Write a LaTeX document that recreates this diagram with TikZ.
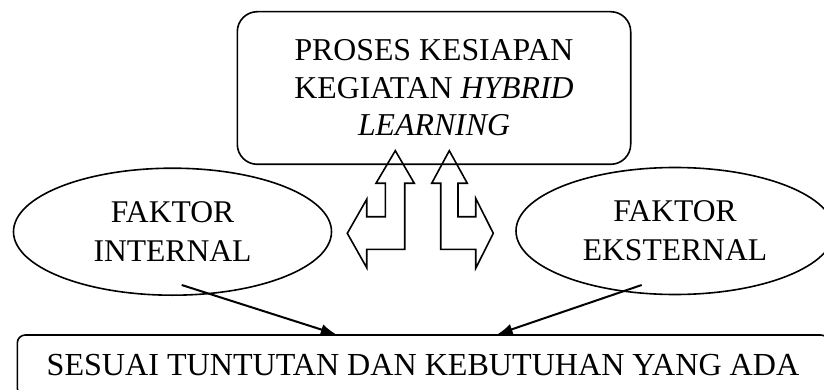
\documentclass[tikz,border=0pt]{standalone}
\usepackage{fontspec}
\setmainfont{Liberation Serif}
\usetikzlibrary{arrows.meta,calc,shapes.geometric}
\begin{document}
\begin{tikzpicture}[x=1pt,y=-1pt,
  outl/.style={draw=black,line width=1.6pt},
  topbox/.style={outl,rounded corners=20pt,minimum width=393.4pt,minimum height=152.6pt,inner sep=0pt,align=center,font=\fontsize{31.8}{37.5}\selectfont},
  oval/.style={outl,ellipse,minimum width=318pt,minimum height=127pt,inner sep=0pt,align=center,font=\fontsize{31.6}{39}\selectfont},
  botbox/.style={outl,rounded corners=8pt,minimum width=811.4pt,minimum height=61pt,inner sep=0pt,font=\fontsize{32.1}{38}\selectfont},
  conn/.style={line width=2pt,-{Latex[length=15pt,width=11pt]}},
  blockarrow/.style={draw=black,line width=1.6pt,line join=miter}]
\useasboundingbox (0,0) rectangle (824,390);
\clip (0,0) rectangle (824,390);

\node[topbox] (proc) at (434,88) {PROSES KESIAPAN\\KEGIATAN \textit{HYBRID}\\\textit{LEARNING}};
\node[oval] (intern) at (172.5,231.7) {FAKTOR\\INTERNAL};
\node[oval] (extern) at (675,231) {FAKTOR\\EKSTERNAL};
\node[botbox] (bot) at (423,365.5) {SESUAI TUNTUTAN DAN KEBUTUHAN YANG ADA};

% block arrows
\draw[blockarrow] (395.3,150.7) -- (414.3,183.3) -- (404.7,183.3) -- (404.7,249.3)
  -- (366.7,249.3) -- (366.7,267.7) -- (347.3,233.3) -- (366.7,199.3) -- (366.7,216.7)
  -- (385.3,216.7) -- (385.3,183.3) -- (376,183.3) -- cycle;
\draw[blockarrow] (449.3,150.7) -- (467.3,183.3) -- (458,183.3) -- (458,216.7)
  -- (475.7,216.7) -- (475.7,198.3) -- (493.3,233.3) -- (475.7,268.3) -- (475.7,249.3)
  -- (440.7,249.3) -- (440.7,183.3) -- (431.7,183.3) -- cycle;

% connectors
\coordinate (inA) at ($(intern.center)+(9.2,53.3)$);
\coordinate (exA) at ($(extern.center)+(-33.3,54)$);
\coordinate (botL) at ($(bot.north west)+(319.4,0)$);
\coordinate (botR) at ($(bot.north west)+(481,0)$);
\draw[conn] (inA) -- (botL);
\draw[conn] (exA) -- (botR);
\end{tikzpicture}
\end{document}
